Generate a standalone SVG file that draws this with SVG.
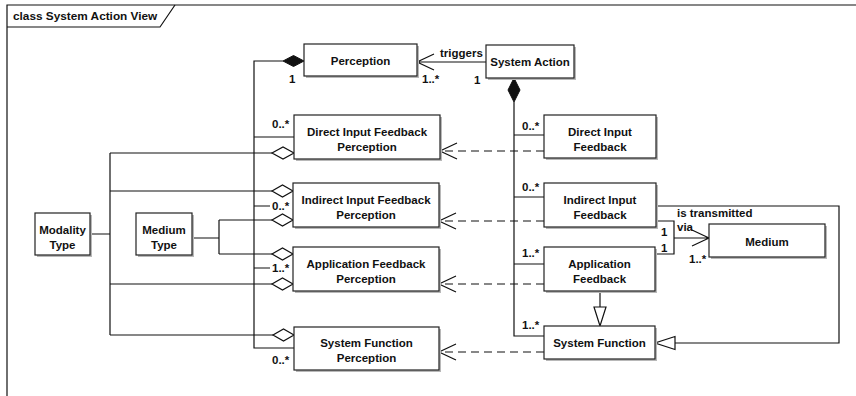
<svg xmlns="http://www.w3.org/2000/svg" width="856" height="396" viewBox="0 0 856 396">
<defs>
<style>
.box{fill:#fff;stroke:#222;stroke-width:1.2}
.sh{fill:#b8b8b8}
.t{font-family:"Liberation Sans",Arial,sans-serif;font-weight:bold;font-size:11.5px;fill:#111;text-anchor:middle}
.l{font-family:"Liberation Sans",Arial,sans-serif;font-weight:bold;font-size:11.5px;fill:#111}
.ln{fill:none;stroke:#111;stroke-width:1.2}
.dash{fill:none;stroke:#111;stroke-width:1.2;stroke-dasharray:8,5}
.hol{fill:#fff;stroke:#111;stroke-width:1.2}
.fil{fill:#111;stroke:#111;stroke-width:1}
</style>
</defs>
<rect width="856" height="396" fill="#fff"/>
<g id="frame">
<path class="ln" d="M7,396 V5 H860" stroke-width="1.5"/>
<path class="ln" d="M7,27 H160 L175,5"/>
<text class="l" x="13" y="20" style="font-size:11.8px">class System Action View</text>
</g>
<g id="connectors">
<path class="ln" d="M283,61 H254 V348 H294"/>
<path class="ln" d="M254,137 H294 M254,268 H270 M254,206 H270"/>
<polygon class="fil" points="304,61 293.5,55.5 283,61 293.5,66.5"/>
<path class="ln" d="M486,62 H417 M434,54 L417,62 L434,70"/>
<polygon class="fil" points="514,78 508,90 514,102 520,90"/>
<path class="ln" d="M514,102 V336 H544 M514,135 H544 M514,197 H544 M514,264 H544"/>
<path class="dash" d="M544,151 H441 M544,221 H440 M544,284 H440 M544,352 H440"/>
<path class="ln" d="M457,143 L440,151 L457,159 M456,213 L439,221 L456,229 M456,276 L439,284 L456,292 M456,344 L439,352 L456,360"/>
<path class="ln" d="M90,234 H110 M110,153 V335 M110,153 H272 M110,191 H272 M110,284 H272 M110,335 H273"/>
<path class="ln" d="M192,238 H219 M219,220 V254 M219,220 H272 M219,254 H272"/>
<polygon class="hol" points="294,153 283,147 272,153 283,159"/>
<polygon class="hol" points="293,191 282.5,185 272,191 282.5,197"/>
<polygon class="hol" points="293,220 282.5,214 272,220 282.5,226"/>
<polygon class="hol" points="293,254 282.5,248 272,254 282.5,260"/>
<polygon class="hol" points="293,284 282.5,278 272,284 282.5,290"/>
<polygon class="hol" points="294,335 283.5,329 273,335 283.5,341"/>
<path class="ln" d="M656,221 H674 V254 H655 M674,238 H709 M692,230 L709,238 L692,246"/>
<path class="ln" d="M656,206 H839 V343 H675"/>
<polygon class="hol" points="675,336.5 655,343 675,349.5"/>
<path class="ln" d="M600,291 V307"/>
<polygon class="hol" points="594,307 606,307 600,326"/>
<text class="l" x="289" y="83">1</text>
<text class="l" x="422" y="83">1..*</text>
<text class="l" x="440" y="57">triggers</text>
<text class="l" x="474" y="84">1</text>
<text class="l" x="272" y="128">0..*</text>
<text class="l" x="272" y="210">0..*</text>
<text class="l" x="272" y="272">1..*</text>
<text class="l" x="272" y="364">0..*</text>
<text class="l" x="522" y="130">0..*</text>
<text class="l" x="522" y="191">0..*</text>
<text class="l" x="522" y="257">1..*</text>
<text class="l" x="522" y="329">1..*</text>
<text class="l" x="661" y="236">1</text>
<text class="l" x="661" y="252">1</text>
<text class="l" x="677" y="217">is transmitted</text>
<text class="l" x="677" y="231">via</text>
<text class="l" x="689" y="263">1..*</text>
</g>
<g id="Perception"><rect class="sh" x="306" y="46" width="113" height="32"/><rect class="box" x="304" y="44" width="113" height="32"/><text class="t" x="360.5" y="65">Perception</text></g>
<g id="SystemAction"><rect class="sh" x="488" y="47" width="88" height="33"/><rect class="box" x="486" y="45" width="88" height="33"/><text class="t" x="530" y="66">System Action</text></g>
<g id="DirectInputFeedbackPerception"><rect class="sh" x="296" y="117" width="146" height="44"/><rect class="box" x="294" y="115" width="146" height="44"/><text class="t" x="367" y="136">Direct Input Feedback</text><text class="t" x="367" y="151">Perception</text></g>
<g id="IndirectInputFeedbackPerception"><rect class="sh" x="295" y="185" width="146" height="44"/><rect class="box" x="293" y="183" width="146" height="44"/><text class="t" x="366" y="204">Indirect Input Feedback</text><text class="t" x="366" y="219">Perception</text></g>
<g id="ApplicationFeedbackPerception"><rect class="sh" x="295" y="249" width="146" height="44"/><rect class="box" x="293" y="247" width="146" height="44"/><text class="t" x="366" y="268">Application Feedback</text><text class="t" x="366" y="283">Perception</text></g>
<g id="SystemFunctionPerception"><rect class="sh" x="296" y="329" width="145" height="43"/><rect class="box" x="294" y="327" width="145" height="43"/><text class="t" x="366.5" y="347">System Function</text><text class="t" x="366.5" y="362">Perception</text></g>
<g id="DirectInputFeedback"><rect class="sh" x="546" y="117" width="112" height="43"/><rect class="box" x="544" y="115" width="112" height="43"/><text class="t" x="600" y="136">Direct Input</text><text class="t" x="600" y="151">Feedback</text></g>
<g id="IndirectInputFeedback"><rect class="sh" x="546" y="185" width="112" height="44"/><rect class="box" x="544" y="183" width="112" height="44"/><text class="t" x="600" y="204">Indirect Input</text><text class="t" x="600" y="219">Feedback</text></g>
<g id="ApplicationFeedback"><rect class="sh" x="546" y="249" width="111" height="44"/><rect class="box" x="544" y="247" width="111" height="44"/><text class="t" x="599.5" y="268">Application</text><text class="t" x="599.5" y="283">Feedback</text></g>
<g id="SystemFunction"><rect class="sh" x="546" y="328" width="111" height="33"/><rect class="box" x="544" y="326" width="111" height="33"/><text class="t" x="599.5" y="347">System Function</text></g>
<g id="Medium"><rect class="sh" x="711" y="226" width="116" height="33"/><rect class="box" x="709" y="224" width="116" height="33"/><text class="t" x="767" y="246">Medium</text></g>
<g id="ModalityType"><rect class="sh" x="37" y="215" width="55" height="42"/><rect class="box" x="35" y="213" width="55" height="42"/><text class="t" x="62.5" y="234">Modality</text><text class="t" x="62.5" y="249">Type</text></g>
<g id="MediumType"><rect class="sh" x="138" y="215" width="56" height="42"/><rect class="box" x="136" y="213" width="56" height="42"/><text class="t" x="164" y="234">Medium</text><text class="t" x="164" y="249">Type</text></g>
</svg>
